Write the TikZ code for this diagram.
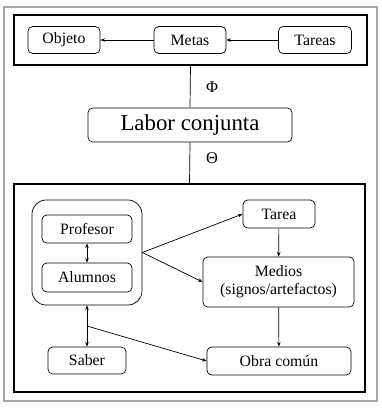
\documentclass[tikz,border=0pt]{standalone}
\usepackage{fontspec}
\setmainfont{Liberation Serif}
\usetikzlibrary{arrows.meta}
\tikzset{
  caja/.style={draw,rounded corners=4pt,inner sep=0pt,line width=0.6pt,text=black,font=\fontsize{13.5}{15.5}\selectfont},
  marco/.style={draw,inner sep=0pt,line width=1.3pt}
}
\begin{document}
\begin{tikzpicture}[x=0.03cm,y=-0.03cm,>={Stealth[length=4pt,width=3pt]},line width=0.6pt]
\useasboundingbox (0,0) rectangle (381,409);
\node[draw=gray!70,line width=1.2pt,inner sep=0pt,minimum width=11.19cm,minimum height=11.82cm] (fondo) at (190.5,204) {};
\node[marco,minimum width=10.59cm,minimum height=1.5cm] (arriba) at (190.5,40) {};
\node[marco,minimum width=10.53cm,minimum height=6.24cm] (abajo) at (189.5,288) {};
\node[caja,minimum width=2.16cm,minimum height=0.81cm] (obj) at (64,40) {Objeto};
\node[caja,minimum width=2.16cm,minimum height=0.81cm] (metas) at (190,40) {Metas};
\node[caja,minimum width=2.19cm,minimum height=0.81cm] (tareas) at (315,40) {Tareas};
\node[caja,minimum width=6.12cm,minimum height=1.02cm,font=\fontsize{19.5}{22}\selectfont] (labor) at (190,125) {Labor conjunta};
\node[font=\fontsize{14}{16}\selectfont] (phi) at (212,87) {Φ};
\node[font=\fontsize{14}{16}\selectfont] (theta) at (212,158) {Θ};
\node[caja,rounded corners=12pt,minimum width=3.3cm,minimum height=3.15cm] (grupo) at (87,252.5) {};
\node[caja,minimum width=2.7cm,minimum height=0.84cm] (prof) at (87,229) {Profesor};
\node[caja,minimum width=2.7cm,minimum height=0.87cm] (alum) at (87,277.5) {Alumnos};
\node[caja,minimum width=2.34cm,minimum height=0.81cm] (saber) at (87,360.5) {Saber};
\node[caja,minimum width=2.16cm,minimum height=0.84cm] (tarea) at (279,214) {Tarea};
\node[caja,minimum width=4.53cm,minimum height=1.5cm,align=center] (medios) at (278.5,282) {Medios\\(signos/artefactos)};
\node[caja,minimum width=4.32cm,minimum height=0.84cm] (obra) at (279,361) {Obra común};
\coordinate (cruce) at (87,326);
\draw[->] (tareas) -- (metas);
\draw[->] (metas) -- (obj);
\draw (arriba.south) -- (labor.north);
\draw (labor.south) -- (abajo.north);
\draw[<->] (prof) -- (alum);
\draw[->] (grupo.east) -- (tarea.west);
\draw[->] (grupo.east) -- (medios.west);
\draw[->] (tarea) -- (medios);
\draw[->] (medios) -- (obra);
\draw[<->] (grupo.south) -- (saber.north);
\draw[->] (cruce) -- (obra.west);
\end{tikzpicture}
\end{document}
